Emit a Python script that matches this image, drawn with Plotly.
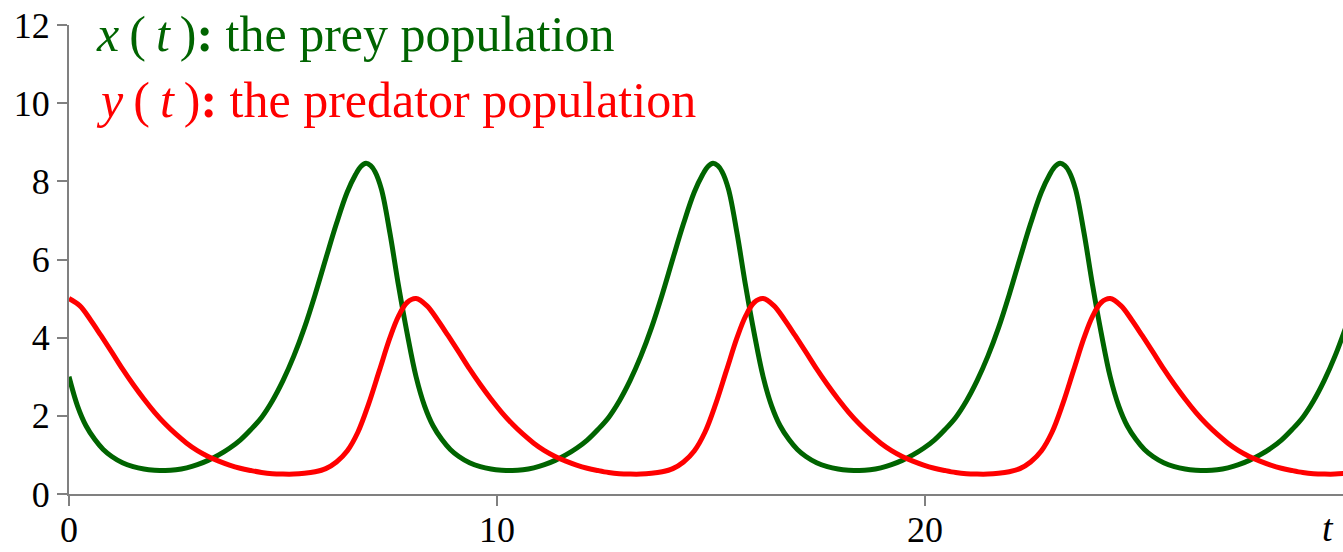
import plotly.graph_objects as go

# ---- data ----
t_prey = [
    0.00, 0.20, 0.40, 0.60, 0.80, 1.00, 1.25, 1.50, 1.75, 2.00, 2.25, 2.50, 2.75, 3.00, 3.25, 3.50, 3.75, 4.00,
    4.25, 4.50, 4.75, 5.00, 5.25, 5.50, 5.75, 6.00, 6.25, 6.50, 6.70, 6.82, 6.94, 7.05, 7.15, 7.30, 7.50, 7.70, 7.90,
    8.11, 8.31, 8.51, 8.71, 8.91, 9.11, 9.36, 9.61, 9.86, 10.11, 10.36, 10.61, 10.86, 11.11, 11.36, 11.61, 11.86, 12.11,
    12.36, 12.61, 12.86, 13.11, 13.36, 13.61, 13.86, 14.11, 14.36, 14.61, 14.81, 14.93, 15.05, 15.16, 15.26, 15.41, 15.61, 15.81, 16.01,
    16.22, 16.42, 16.62, 16.82, 17.02, 17.22, 17.47, 17.72, 17.97, 18.22, 18.47, 18.72, 18.97, 19.22, 19.47, 19.72, 19.97, 20.22,
    20.47, 20.72, 20.97, 21.22, 21.47, 21.72, 21.97, 22.22, 22.47, 22.72, 22.92, 23.04, 23.16, 23.27, 23.37, 23.52, 23.72, 23.92, 24.12,
    24.33, 24.53, 24.73, 24.93, 25.13, 25.33, 25.58, 25.83, 26.08, 26.33, 26.58, 26.83, 27.08, 27.33, 27.58, 27.83, 28.08, 28.33,
    28.58, 28.83, 29.08, 29.33, 29.58, 29.83,
]
x_prey = [
    3.00, 2.25, 1.74, 1.40, 1.14, 0.96, 0.80, 0.70, 0.64, 0.61, 0.60, 0.62, 0.67, 0.75, 0.86, 1.00, 1.17, 1.38,
    1.65, 1.96, 2.38, 2.90, 3.52, 4.25, 5.10, 6.02, 6.92, 7.72, 8.18, 8.38, 8.46, 8.40, 8.25, 7.80, 6.67, 5.33, 4.12,
    3.00, 2.25, 1.74, 1.40, 1.14, 0.96, 0.80, 0.70, 0.64, 0.61, 0.60, 0.62, 0.67, 0.75, 0.86, 1.00, 1.17, 1.38,
    1.65, 1.96, 2.38, 2.90, 3.52, 4.25, 5.10, 6.02, 6.92, 7.72, 8.18, 8.38, 8.46, 8.40, 8.25, 7.80, 6.67, 5.33, 4.12,
    3.00, 2.25, 1.74, 1.40, 1.14, 0.96, 0.80, 0.70, 0.64, 0.61, 0.60, 0.62, 0.67, 0.75, 0.86, 1.00, 1.17, 1.38,
    1.65, 1.96, 2.38, 2.90, 3.52, 4.25, 5.10, 6.02, 6.92, 7.72, 8.18, 8.38, 8.46, 8.40, 8.25, 7.80, 6.67, 5.33, 4.12,
    3.00, 2.25, 1.74, 1.40, 1.14, 0.96, 0.80, 0.70, 0.64, 0.61, 0.60, 0.62, 0.67, 0.75, 0.86, 1.00, 1.17, 1.38,
    1.65, 1.96, 2.38, 2.90, 3.52, 4.25,
]

t_pred = [
    0.00, 0.25, 0.50, 0.75, 1.00, 1.25, 1.50, 1.75, 2.00, 2.25, 2.50, 2.75, 3.00, 3.25, 3.50, 3.75, 4.00,
    4.25, 4.50, 4.75, 5.00, 5.25, 5.50, 5.75, 6.00, 6.25, 6.50, 6.75, 7.00, 7.25, 7.50, 7.70, 7.90,
    8.11, 8.36, 8.61, 8.86, 9.11, 9.36, 9.61, 9.86, 10.11, 10.36, 10.61, 10.86, 11.11, 11.36, 11.61, 11.86, 12.11,
    12.36, 12.61, 12.86, 13.11, 13.36, 13.61, 13.86, 14.11, 14.36, 14.61, 14.86, 15.11, 15.36, 15.61, 15.81, 16.01,
    16.22, 16.47, 16.72, 16.97, 17.22, 17.47, 17.72, 17.97, 18.22, 18.47, 18.72, 18.97, 19.22, 19.47, 19.72, 19.97, 20.22,
    20.47, 20.72, 20.97, 21.22, 21.47, 21.72, 21.97, 22.22, 22.47, 22.72, 22.97, 23.22, 23.47, 23.72, 23.92, 24.12,
    24.33, 24.58, 24.83, 25.08, 25.33, 25.58, 25.83, 26.08, 26.33, 26.58, 26.83, 27.08, 27.33, 27.58, 27.83, 28.08, 28.33,
    28.58, 28.83, 29.08, 29.33, 29.58, 29.83,
]
y_pred = [
    5.00, 4.82, 4.46, 4.05, 3.63, 3.20, 2.80, 2.43, 2.09, 1.79, 1.53, 1.30, 1.11, 0.96, 0.84, 0.74, 0.66,
    0.60, 0.55, 0.52, 0.51, 0.51, 0.53, 0.57, 0.65, 0.82, 1.10, 1.58, 2.30, 3.15, 4.00, 4.55, 4.90,
    5.00, 4.82, 4.46, 4.05, 3.63, 3.20, 2.80, 2.43, 2.09, 1.79, 1.53, 1.30, 1.11, 0.96, 0.84, 0.74, 0.66,
    0.60, 0.55, 0.52, 0.51, 0.51, 0.53, 0.57, 0.65, 0.82, 1.10, 1.58, 2.30, 3.15, 4.00, 4.55, 4.90,
    5.00, 4.82, 4.46, 4.05, 3.63, 3.20, 2.80, 2.43, 2.09, 1.79, 1.53, 1.30, 1.11, 0.96, 0.84, 0.74, 0.66,
    0.60, 0.55, 0.52, 0.51, 0.51, 0.53, 0.57, 0.65, 0.82, 1.10, 1.58, 2.30, 3.15, 4.00, 4.55, 4.90,
    5.00, 4.82, 4.46, 4.05, 3.63, 3.20, 2.80, 2.43, 2.09, 1.79, 1.53, 1.30, 1.11, 0.96, 0.84, 0.74, 0.66,
    0.60, 0.55, 0.52, 0.51, 0.51, 0.53,
]

x_ticks = [0, 10, 20]
y_ticks = [0, 2, 4, 6, 8, 10, 12]
prey_label = "<i>x</i>\u2009(\u2009<i>t</i>\u2009)<b>:</b> the prey population"
pred_label = "<i>y</i>\u2009(\u2009<i>t</i>\u2009)<b>:</b> the predator population"

GREEN = "#006400"
RED = "#ff0000"
AXIS = "#808080"
FONT = "Liberation Serif"

fig = go.Figure()
fig.add_trace(go.Scatter(x=t_prey, y=x_prey, mode="lines",
                         line=dict(color=GREEN, width=5, shape="spline"), showlegend=False))
fig.add_trace(go.Scatter(x=t_pred, y=y_pred, mode="lines",
                         line=dict(color=RED, width=5, shape="spline"), showlegend=False))

fig.update_layout(
    width=1343, height=552,
    margin=dict(l=69, r=0, t=25, b=58),
    paper_bgcolor="white", plot_bgcolor="white",
    font=dict(family=FONT, color="black", size=36),
    xaxis=dict(range=[0, 29.77], tickvals=x_ticks, showgrid=False, zeroline=False,
               showline=True, linecolor=AXIS, linewidth=2,
               ticks="outside", ticklen=10, tickwidth=2, tickcolor=AXIS,
               ticklabelstandoff=-7,
               tickfont=dict(family=FONT, size=36, color="black"), automargin=False),
    yaxis=dict(range=[0, 12], tickvals=y_ticks, showgrid=False, zeroline=False,
               showline=True, linecolor=AXIS, linewidth=2,
               ticks="outside", ticklen=10, tickwidth=2, tickcolor=AXIS,
               tickfont=dict(family=FONT, size=36, color="black"), automargin=False),
    annotations=[
        dict(text=prey_label, xref="paper", yref="paper", x=0.02, y=0.98,
             xanchor="left", yanchor="middle", showarrow=False,
             font=dict(family=FONT, size=50, color=GREEN)),
        dict(text=pred_label, xref="paper", yref="paper", x=0.02, y=0.84,
             xanchor="left", yanchor="middle", showarrow=False,
             font=dict(family=FONT, size=50, color=RED)),
        dict(text="<i>t</i>", xref="paper", yref="paper", x=0.988, y=-0.0725,
             xanchor="center", yanchor="middle", showarrow=False,
             font=dict(family=FONT, size=38, color="black")),
    ],
)

fig.write_html("out.html", config={"displayModeBar": False},
               post_script="document.body.style.margin='0';")
